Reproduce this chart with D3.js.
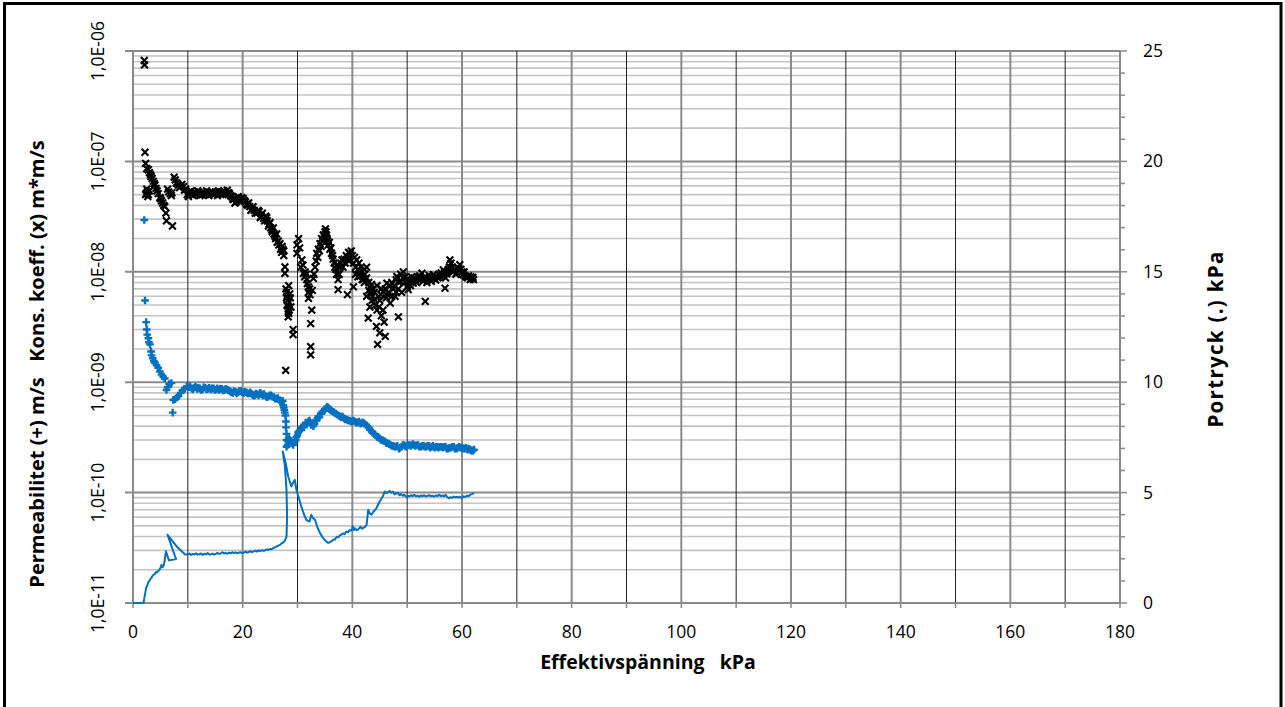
<!DOCTYPE html>
<html><head><meta charset="utf-8">
<script src="https://cdn.jsdelivr.net/npm/d3@7"></script>
<style>
html,body{margin:0;padding:0;background:#fff;}
svg{display:block;}
text{font-family:"Open Sans","Liberation Sans",sans-serif;fill:#000;white-space:pre;}
</style></head>
<body>
<svg id="chart" width="1285" height="707"></svg>
<script>
// ---------------- DATA ----------------
const xTickLabels = [0,20,40,60,80,100,120,140,160,180];
const leftTickLabels = ["1,0E-11","1,0E-10","1,0E-09","1,0E-08","1,0E-07","1,0E-06"];
const leftTickValues = [1e-11,1e-10,1e-9,1e-8,1e-7,1e-6];
const rightTickLabels = [0,5,10,15,20,25];

const xTitle = "Effektivspänning   kPa";
const leftTitle = "Permeabilitet (+) m/s   Kons. koeff. (x) m*m/s";
const rightTitle = "Portryck (.) kPa";

// Kons. koeff. (x) m*m/s  — [effektivspänning kPa, value]
const konsKoeff = [
 [2.06,8.2e-7],[2.1,7.5e-7],
 [2.19,1.21e-7],[2.3,9.6e-8],[2.5,8.6e-8],[2.8,8.4e-8],[3.0,7.9e-8],[3.2,7.6e-8],[3.5,7.0e-8],[3.7,6.6e-8],
 [4.0,6.1e-8],[4.2,5.7e-8],[4.6,5.1e-8],[4.9,4.7e-8],[5.2,4.4e-8],[5.4,4.2e-8],[5.8,3.9e-8],[6.0,3.4e-8],
 [6.1,2.9e-8],[7.2,2.6e-8],
 [2.4,5.1e-8],[2.6,5.3e-8],[2.8,5.0e-8],[3.0,5.4e-8],[6.5,5.3e-8],[6.8,5.1e-8],[7.1,5.2e-8],
 [7.5,7.2e-8],[7.9,6.4e-8],[8.3,6.1e-8],[8.7,6.0e-8],[9.2,5.9e-8],[9.6,5.6e-8],[10.1,4.8e-8],[10.4,5.2e-8],
 [10.8,5.1e-8],[11.2,5.3e-8],[11.6,5.0e-8],[12.0,5.2e-8],[12.4,5.1e-8],[12.8,5.3e-8],[13.2,5.0e-8],[13.6,5.2e-8],
 [14.0,5.1e-8],[14.4,5.3e-8],[14.8,5.0e-8],[15.2,5.2e-8],[15.6,5.4e-8],[16.0,5.1e-8],[16.4,5.0e-8],[16.8,5.2e-8],
 [17.2,5.5e-8],[17.6,5.1e-8],[18.0,4.8e-8],[18.3,4.5e-8],[18.6,4.2e-8],[19.0,4.4e-8],[19.4,4.6e-8],[19.8,4.7e-8],
 [20.1,4.6e-8],[20.5,4.3e-8],[20.9,4.0e-8],[21.3,3.9e-8],[21.7,3.7e-8],[22.1,3.6e-8],[22.6,3.4e-8],[23.0,3.5e-8],
 [23.4,3.2e-8],[23.8,3.05e-8],[24.2,3.2e-8],[24.5,2.9e-8],[24.8,2.7e-8],[25.1,2.5e-8],[25.4,2.3e-8],[25.7,2.2e-8],
 [26.0,2.0e-8],[26.3,1.85e-8],[26.6,1.75e-8],[26.9,1.6e-8],[27.1,1.5e-8],[27.3,1.6e-8],[27.5,1.4e-8],
 [27.7,1.11e-8],[27.7,9.7e-9],[27.9,7.0e-9],[28.0,6.5e-9],[28.1,6.0e-9],[28.2,5.5e-9],[28.1,5.0e-9],[28.3,4.6e-9],
 [28.4,4.2e-9],[28.0,5.8e-9],[28.5,5.3e-9],[28.6,6.3e-9],[29.2,3.0e-9],[29.2,2.7e-9],[27.85,1.28e-9],
 [29.9,1.75e-8],[30.2,2.0e-8],[29.9,1.47e-8],[30.8,1.28e-8],[31.1,9.7e-9],[31.4,1.0e-8],[31.7,8.5e-9],[32.0,7.3e-9],
 [32.0,6.5e-9],[32.0,5.75e-9],[32.3,6.2e-9],[32.6,4.5e-9],[32.4,3.4e-9],[32.4,2.1e-9],[32.4,1.77e-9],[32.9,8.7e-9],
 [33.2,1.1e-8],[33.5,1.47e-8],[33.8,1.6e-8],[34.1,1.8e-8],[34.4,2.0e-8],[34.7,2.16e-8],[35.0,2.3e-8],[35.2,2.3e-8],
 [35.4,2.0e-8],[35.6,1.75e-8],[35.9,1.6e-8],[36.2,1.47e-8],[36.5,1.3e-8],[36.8,1.1e-8],[37.1,9.5e-9],[37.4,8.5e-9],
 [37.4,6.9e-9],[37.8,1.1e-8],[38.1,1.28e-8],[38.5,1.3e-8],[38.9,1.4e-8],[39.3,1.5e-8],[39.6,1.47e-8],[40.0,1.4e-8],
 [40.4,1.35e-8],[40.8,1.28e-8],[39.1,6.2e-9],[40.2,7.3e-9],[41.0,9.0e-9],[41.4,9.1e-9],[41.8,1.0e-8],[42.2,1.05e-8],
 [42.6,1.1e-8],[42.0,8.5e-9],[43.0,8.0e-9],[43.2,7.3e-9],[43.5,7.7e-9],[42.6,6.0e-9],[43.2,4.8e-9],[42.9,3.8e-9],
 [43.6,5.5e-9],[44.0,6.5e-9],[44.4,3.2e-9],[45.0,2.8e-9],[46.0,2.6e-9],[44.6,2.2e-9],[44.2,5.0e-9],[44.8,6.0e-9],
 [45.3,7.0e-9],[45.6,4.5e-9],[46.3,7.9e-9],[46.6,6.5e-9],[46.9,5.2e-9],[47.2,6.0e-9],[47.8,6.0e-9],[48.4,3.9e-9],
 [48.1,9.1e-9],[48.5,8.0e-9],[48.8,9.5e-9],[49.3,1.0e-8],[49.6,9.0e-9],[50.0,7.3e-9],[50.2,6.9e-9],[50.6,7.5e-9],
 [51.1,7.9e-9],[51.5,8.5e-9],[51.9,9.0e-9],[52.3,9.2e-9],[52.7,9.7e-9],[53.0,8.8e-9],[53.3,5.4e-9],[53.6,8.0e-9],
 [54.2,8.5e-9],[54.6,9.0e-9],[55.0,8.7e-9],[55.4,9.1e-9],[55.8,9.5e-9],[56.2,9.8e-9],[56.6,1.04e-8],[56.9,7.1e-9],
 [57.2,9.6e-9],[57.5,1.05e-8],[57.8,1.28e-8],[58.2,1.1e-8],[58.7,1.05e-8],[59.0,9.8e-9],[59.3,1.05e-8],[59.6,1.16e-8],
 [60.0,1.0e-8],[60.2,9.4e-9],[60.6,9.2e-9],[61.0,8.8e-9],[61.5,8.5e-9],[61.8,8.8e-9],[62.1,8.5e-9],
 [40.6,1.1e-8],[41.2,1.2e-8],[41.6,1.1e-8],[42.3,9.5e-9],[43.8,7.0e-9],[44.5,7.5e-9],[45.0,5.5e-9],[45.3,4.0e-9],
 [45.8,3.5e-9],[46.2,5.8e-9],[47.5,7.0e-9],[48.0,6.5e-9],[49.0,6.5e-9],
 [2.3,5.0e-8],[2.5,5.6e-8],[2.7,4.8e-8],[3.3,7.3e-8],[3.9,6.3e-8],[4.4,5.4e-8],[5.0,4.6e-8],[5.6,4.0e-8],[6.3,5.6e-8],
 [7.0,4.9e-8],[7.7,6.8e-8],[8.1,6.3e-8],[8.5,5.8e-8],[8.9,6.2e-8],[9.4,5.5e-8],[9.9,5.0e-8],[10.6,5.4e-8],[11.0,4.9e-8],
 [11.4,5.2e-8],[11.8,5.4e-8],[12.2,4.9e-8],[12.6,5.0e-8],[13.0,5.2e-8],[13.4,5.4e-8],[13.8,4.9e-8],[14.2,5.2e-8],
 [14.6,5.1e-8],[15.0,5.3e-8],[15.4,4.9e-8],[15.8,5.1e-8],[16.2,5.3e-8],[16.6,5.4e-8],[17.0,5.0e-8],[17.4,5.2e-8],
 [17.8,4.9e-8],[18.2,4.6e-8],[18.8,4.3e-8],[19.2,4.8e-8],[19.6,4.4e-8],[20.3,4.4e-8],[20.7,4.1e-8],[21.1,4.2e-8],
 [21.5,3.6e-8],[21.9,3.9e-8],[22.3,3.4e-8],[22.8,3.6e-8],[23.2,3.1e-8],[23.6,3.4e-8],[24.0,2.9e-8],[24.4,3.1e-8],
 [24.7,2.6e-8],[25.0,2.8e-8],[25.3,2.4e-8],[25.6,2.5e-8],[25.9,2.1e-8],[26.2,2.2e-8],[26.5,1.9e-8],[26.8,1.8e-8],
 [27.2,1.7e-8],[27.5,1.55e-8],[28.4,7.5e-9],[28.2,4.9e-9],[28.5,4.5e-9],[28.3,3.9e-9],[28.7,5.8e-9],[28.8,4.8e-9],
 [30.4,1.65e-8],[30.6,1.1e-8],[31.0,1.15e-8],[31.3,9.0e-9],[31.6,9.5e-9],[31.8,7.8e-9],[32.2,7.0e-9],[32.7,6.8e-9],
 [33.0,9.5e-9],[33.4,1.25e-8],[33.7,1.35e-8],[34.0,1.55e-8],[34.3,1.7e-8],[34.6,1.9e-8],[34.9,2.05e-8],[35.1,2.45e-8],
 [35.3,2.15e-8],[35.5,1.9e-8],[35.8,1.85e-8],[36.1,1.65e-8],[36.4,1.4e-8],[36.7,1.2e-8],[37.0,1.05e-8],[37.3,1.15e-8],
 [37.6,9.5e-9],[37.9,1.2e-8],[38.3,1.1e-8],[38.7,1.2e-8],[39.0,1.3e-8],[39.4,1.25e-8],[39.8,1.55e-8],[40.2,1.2e-8],
 [40.6,9.5e-9],[41.0,1.05e-8],[41.4,1.0e-8],[41.8,8.5e-9],[42.2,8.0e-9],[42.6,8.8e-9],[43.0,6.8e-9],[43.3,6.2e-9],
 [43.7,6.0e-9],[44.1,5.6e-9],[44.5,4.5e-9],[44.9,4.8e-9],[45.2,6.2e-9],[45.6,6.6e-9],[46.0,7.0e-9],[46.4,6.2e-9],
 [46.8,7.4e-9],[47.2,8.0e-9],[47.6,7.5e-9],[48.0,8.5e-9],[48.4,7.0e-9],[48.8,8.2e-9],[49.2,8.8e-9],[49.6,8.0e-9],
 [50.0,8.6e-9],[50.4,8.2e-9],[50.8,9.0e-9],[51.3,8.8e-9],[51.7,8.0e-9],[52.1,8.4e-9],[52.5,8.8e-9],[52.9,8.2e-9],
 [53.3,9.0e-9],[53.8,8.6e-9],[54.0,9.3e-9],[54.4,8.2e-9],[54.8,9.4e-9],[55.2,8.4e-9],[55.6,8.8e-9],[56.0,9.0e-9],
 [56.4,9.3e-9],[56.8,9.8e-9],[57.0,8.8e-9],[57.4,1.0e-8],[57.7,1.1e-8],[58.0,1.2e-8],[58.4,1.0e-8],[58.9,9.5e-9],
 [59.2,1.1e-8],[59.8,1.05e-8],[60.4,1.0e-8],[60.8,9.0e-9],[61.2,9.2e-9],[61.6,9.0e-9],[62.0,8.9e-9]
];

// Permeabilitet (+) m/s — [effektivspänning kPa, value]
const permeabilitet = [
 [2.06,2.95e-8],[2.19,5.5e-9],[2.4,3.5e-9],[2.5,3.0e-9],[2.6,2.7e-9],[2.8,2.5e-9],[2.9,2.3e-9],[3.1,2.2e-9],
 [3.3,1.9e-9],[3.4,1.75e-9],[3.6,1.65e-9],[3.8,1.55e-9],[4.0,1.5e-9],[4.3,1.42e-9],[4.6,1.35e-9],[4.9,1.25e-9],
 [5.2,1.17e-9],[5.5,1.12e-9],[5.8,1.08e-9],[6.1,8.5e-10],[6.3,9.0e-10],[6.6,9.6e-10],[7.0,9.8e-10],[7.24,5.3e-10],
 [7.35,6.9e-10],[7.7,7.0e-10],[8.0,7.3e-10],[8.3,7.5e-10],[8.7,8.0e-10],[9.0,8.4e-10],[9.4,8.7e-10],[9.8,9.1e-10],
 [10.2,9.0e-10],[10.7,8.8e-10],[11.2,8.9e-10],[11.7,8.7e-10],[12.2,8.8e-10],[12.7,8.6e-10],[13.2,8.9e-10],[13.7,8.7e-10],
 [14.2,8.6e-10],[14.7,8.8e-10],[15.2,8.6e-10],[15.7,8.5e-10],[16.2,8.7e-10],[16.7,8.5e-10],[17.2,8.6e-10],[17.7,8.3e-10],
 [18.2,8.0e-10],[18.7,8.2e-10],[19.2,8.1e-10],[19.7,8.3e-10],[20.2,8.0e-10],[20.7,8.1e-10],[21.2,7.9e-10],[21.7,7.8e-10],
 [22.2,7.6e-10],[22.7,7.8e-10],[23.2,8.0e-10],[23.7,7.6e-10],[24.2,7.5e-10],[24.7,7.4e-10],[25.2,7.6e-10],[25.7,7.3e-10],
 [26.2,7.1e-10],[26.7,6.9e-10],[27.1,6.6e-10],[27.4,6.2e-10],[27.6,5.6e-10],[27.8,5.0e-10],[27.9,4.4e-10],[27.9,3.9e-10],
 [28.0,3.4e-10],[28.0,3.0e-10],[28.0,2.6e-10],[28.3,2.9e-10],[28.6,3.0e-10],[29.0,2.8e-10],[29.5,2.9e-10],[29.8,3.2e-10],
 [30.1,3.5e-10],[30.5,3.7e-10],[31.0,4.0e-10],[31.5,4.3e-10],[32.0,4.4e-10],[32.5,4.1e-10],[32.9,4.0e-10],[33.4,4.5e-10],
 [33.8,4.9e-10],[34.3,5.2e-10],[34.8,5.5e-10],[35.2,5.8e-10],[35.6,5.9e-10],[36.0,5.6e-10],[36.5,5.4e-10],[37.0,5.2e-10],
 [37.5,5.0e-10],[38.0,4.8e-10],[38.5,4.7e-10],[39.0,4.6e-10],[39.5,4.5e-10],[40.0,4.4e-10],[40.5,4.4e-10],[41.0,4.3e-10],
 [41.5,4.2e-10],[42.0,4.3e-10],[42.5,4.1e-10],[43.0,3.9e-10],[43.5,3.6e-10],[44.0,3.4e-10],[44.5,3.2e-10],[45.0,3.1e-10],
 [45.5,3.0e-10],[46.0,2.9e-10],[46.5,2.8e-10],[47.0,2.7e-10],[47.5,2.65e-10],[48.0,2.6e-10],[48.5,2.5e-10],[49.0,2.6e-10],
 [49.5,2.7e-10],[50.0,2.65e-10],[50.5,2.7e-10],[51.0,2.75e-10],[51.5,2.65e-10],[52.0,2.7e-10],[52.5,2.6e-10],[53.0,2.65e-10],
 [53.5,2.6e-10],[54.0,2.65e-10],[54.5,2.6e-10],[55.0,2.55e-10],[55.5,2.6e-10],[56.0,2.6e-10],[56.5,2.55e-10],[57.0,2.6e-10],
 [57.5,2.5e-10],[58.0,2.55e-10],[58.5,2.6e-10],[59.0,2.5e-10],[59.5,2.6e-10],[60.0,2.55e-10],[60.5,2.5e-10],[61.0,2.45e-10],
 [61.5,2.45e-10],[62.0,2.4e-10],
 [10.4,9.2e-10],[10.9,8.6e-10],[11.4,9.1e-10],[11.9,8.9e-10],[12.4,8.5e-10],[12.9,9.0e-10],[13.4,8.6e-10],[13.9,8.9e-10],
 [14.4,8.8e-10],[14.9,8.5e-10],[15.4,8.8e-10],[15.9,8.7e-10],[16.4,8.4e-10],[16.9,8.7e-10],[17.4,8.4e-10],[17.9,8.1e-10],
 [18.4,8.3e-10],[18.9,7.9e-10],[19.4,8.3e-10],[19.9,8.1e-10],[20.4,8.2e-10],[20.9,7.9e-10],[21.4,8.1e-10],[21.9,7.6e-10],
 [22.4,7.9e-10],[22.9,7.6e-10],[23.4,7.8e-10],[23.9,7.8e-10],[24.4,7.3e-10],[24.9,7.6e-10],[25.4,7.4e-10],[25.9,7.1e-10],
 [26.4,7.2e-10],[26.9,6.7e-10],[27.3,6.8e-10],[27.5,5.9e-10],[27.7,5.3e-10],[28.2,2.7e-10],[28.4,3.1e-10],[28.8,2.9e-10],
 [29.2,2.7e-10],[29.7,3.0e-10],[30.0,3.3e-10],[30.3,3.6e-10],[30.7,3.9e-10],[31.2,3.9e-10],[31.7,4.2e-10],[32.2,4.5e-10],
 [32.7,4.2e-10],[33.1,4.2e-10],[33.6,4.7e-10],[34.0,4.8e-10],[34.5,5.4e-10],[35.0,5.6e-10],[35.4,6.0e-10],[35.8,5.7e-10],
 [36.2,5.5e-10],[36.7,5.3e-10],[37.2,5.1e-10],[37.7,4.9e-10],[38.2,4.9e-10],[38.7,4.6e-10],[39.2,4.5e-10],[39.7,4.4e-10],
 [40.2,4.5e-10],[40.7,4.3e-10],[41.2,4.4e-10],[41.7,4.3e-10],[42.2,4.2e-10],[42.7,4.0e-10],[43.2,3.7e-10],[43.7,3.5e-10],
 [44.2,3.3e-10],[44.7,3.2e-10],[45.2,3.0e-10],[45.7,2.95e-10],[46.2,2.8e-10],[46.7,2.75e-10],[47.2,2.65e-10],[47.7,2.6e-10],
 [48.2,2.65e-10],[48.7,2.55e-10],[49.2,2.7e-10],[49.7,2.6e-10],[50.2,2.7e-10],[50.7,2.65e-10],[51.2,2.7e-10],[51.7,2.7e-10],
 [52.2,2.6e-10],[52.7,2.65e-10],[53.2,2.6e-10],[53.7,2.65e-10],[54.2,2.55e-10],[54.7,2.65e-10],[55.2,2.6e-10],[55.7,2.55e-10],
 [56.2,2.6e-10],[56.7,2.6e-10],[57.2,2.5e-10],[57.7,2.55e-10],[58.2,2.6e-10],[58.7,2.5e-10],[59.2,2.55e-10],[59.7,2.55e-10],
 [60.2,2.5e-10],[60.7,2.55e-10],[61.2,2.5e-10],[61.7,2.4e-10],[62.2,2.45e-10]
];

// Portryck (.) kPa — [effektivspänning kPa, portryck kPa] in measurement order
const portryck = [
 [0,0],[1.9,0],[2.2,0.4],[2.4,0.7],[2.6,0.78],[2.8,0.95],[3.0,1.0],[3.2,1.1],[3.4,1.15],[3.6,1.25],[3.8,1.28],
 [4.0,1.32],[4.2,1.4],[4.4,1.38],[4.6,1.45],[4.8,1.5],[5.0,1.58],[5.2,1.73],[5.4,1.62],[5.6,1.7],[5.8,1.96],
 [6.0,2.34],[6.57,1.93],[7.85,1.99],[6.3,3.09],[7.97,2.56],[8.88,2.34],[9.5,2.2],
 [10.0,2.2],[10.3,2.24],[10.6,2.18],[10.9,2.22],[11.2,2.2],[11.5,2.25],[11.8,2.19],[12.1,2.21],[12.4,2.24],[12.7,2.18],
 [13.0,2.23],[13.3,2.2],[13.6,2.26],[13.9,2.21],[14.2,2.2],[14.5,2.24],[14.8,2.19],[15.1,2.23],[15.4,2.27],[15.7,2.22],
 [16.0,2.25],[16.3,2.3],[16.6,2.24],[16.9,2.27],[17.2,2.23],[17.5,2.28],[17.8,2.25],[18.1,2.3],[18.4,2.26],[18.7,2.29],
 [19.0,2.25],[19.3,2.28],[19.6,2.3],[19.9,2.26],[20.2,2.28],[20.5,2.33],[20.8,2.28],[21.1,2.31],[21.4,2.35],[21.7,2.3],
 [22.0,2.34],[22.3,2.37],[22.6,2.33],[22.9,2.38],[23.2,2.35],[23.5,2.4],[23.8,2.36],[24.1,2.39],[24.4,2.43],[24.7,2.4],
 [25.0,2.45],[25.3,2.43],[25.6,2.49],[25.9,2.52],[26.2,2.56],[26.5,2.6],[26.8,2.63],[27.1,2.7],[27.4,2.74],[27.7,2.82],
 [28.0,3.02],[28.1,3.9],[28.0,5.1],[27.7,6.2],[27.3,6.86],[27.8,6.4],[28.3,5.73],[28.6,5.5],[28.9,5.28],[29.2,5.45],
 [29.5,5.58],[29.8,5.13],[30.3,4.7],[30.7,4.37],[31.2,4.0],[31.6,3.77],[31.9,3.72],[32.2,3.69],[32.5,4.0],[32.8,3.85],
 [33.2,3.77],[33.6,3.45],[34.1,3.17],[34.5,3.0],[34.8,2.9],[35.2,2.8],[35.6,2.72],[35.9,2.76],[36.2,2.8],[36.5,2.86],
 [36.8,2.87],[37.0,2.95],[37.2,3.0],[37.5,2.98],[37.7,3.06],[38.0,3.1],[38.3,3.15],[38.6,3.12],[38.9,3.24],[39.2,3.2],
 [39.5,3.3],[39.8,3.28],[40.1,3.47],[40.3,3.3],[40.5,3.38],[40.8,3.3],[41.0,3.32],[41.3,3.4],[41.5,3.45],[41.8,3.36],
 [42.0,3.4],[42.3,3.45],[42.6,3.54],[42.9,4.22],[43.2,4.05],[43.5,4.0],[43.8,4.12],[44.1,4.2],[44.4,4.3],[44.7,4.45],
 [45.0,4.6],[45.3,4.72],[45.6,4.85],[45.9,5.05],[46.2,4.98],[46.5,5.02],[46.8,5.08],[47.1,5.0],[47.4,5.05],[47.7,4.92],
 [48.0,4.96],[48.3,4.99],[48.6,4.88],[48.9,4.93],[49.2,4.86],[49.5,4.9],[49.8,4.8],[50.1,4.86],[50.4,4.82],[50.7,4.88],
 [51.0,4.84],[51.3,4.9],[51.6,4.83],[51.9,4.86],[52.2,4.81],[52.5,4.87],[52.8,4.84],[53.1,4.88],[53.4,4.82],[53.7,4.85],
 [54.0,4.88],[54.3,4.84],[54.6,4.86],[54.9,4.82],[55.2,4.87],[55.5,4.84],[55.8,4.9],[56.1,4.85],[56.4,4.87],[56.7,4.83],
 [57.0,4.9],[57.3,4.8],[57.6,4.74],[57.9,4.79],[58.2,4.76],[58.5,4.82],[58.8,4.78],[59.1,4.81],[59.4,4.77],[59.7,4.8],
 [60.0,4.76],[60.3,4.83],[60.6,4.8],[60.9,4.86],[61.2,4.84],[61.5,4.9],[61.8,4.93],[62.2,4.98]
];

// ---------------- CHART ----------------
const svg = d3.select("#chart");
const X0 = 133, X1 = 1120, Y0 = 603, Y1 = 51;
const x = d3.scaleLinear().domain([0,180]).range([X0,X1]);
const yL = d3.scaleLog().domain([1e-11,1e-6]).range([Y0,Y1]);
const yR = d3.scaleLinear().domain([0,25]).range([Y0,Y1]);

// outer frame
svg.append("rect").attr("x",4.5).attr("y",3.5).attr("width",1276.5).attr("height",720)
  .attr("fill","none").attr("stroke","#000").attr("stroke-width",3);

const grid = svg.append("g");
const minorVals = [];
for (let k=-11;k<-6;k++) for (let m=2;m<=9;m++) minorVals.push(m*Math.pow(10,k));
grid.selectAll("line.hmin").data(minorVals).join("line")
  .attr("x1",X0).attr("x2",X1).attr("y1",d=>yL(d)).attr("y2",d=>yL(d))
  .attr("stroke","#c4c4c4").attr("stroke-width",1.6);
grid.selectAll("line.hmaj").data(leftTickValues).join("line")
  .attr("x1",X0-8).attr("x2",X1).attr("y1",d=>yL(d)).attr("y2",d=>yL(d))
  .attr("stroke","#8a8a8a").attr("stroke-width",2);
const vVals = d3.range(10,180,10);
grid.selectAll("line.v").data(vVals).join("line")
  .attr("x1",d=>x(d)).attr("x2",d=>x(d)).attr("y1",Y1).attr("y2",Y0)
  .attr("stroke",d=>d%20===0?"#8a8a8a":"#222")
  .attr("stroke-width",d=>d%20===0?2:1);

svg.append("line").attr("x1",X0).attr("x2",X0).attr("y1",Y1).attr("y2",Y0).attr("stroke","#8a8a8a").attr("stroke-width",2);
svg.append("line").attr("x1",X1).attr("x2",X1).attr("y1",Y1).attr("y2",Y0).attr("stroke","#8a8a8a").attr("stroke-width",2);
svg.append("line").attr("x1",X0).attr("x2",X1).attr("y1",Y0).attr("y2",Y0).attr("stroke","#8a8a8a").attr("stroke-width",2);

svg.selectAll("line.bt").data(d3.range(0,181,10)).join("line")
  .attr("x1",d=>x(d)).attr("x2",d=>x(d)).attr("y1",Y0).attr("y2",Y0+5)
  .attr("stroke","#8a8a8a").attr("stroke-width",1.5);
svg.selectAll("text.bl").data(xTickLabels).join("text")
  .attr("x",d=>x(d)).attr("y",638).attr("text-anchor","middle")
  .attr("font-size",17.5).text(d=>d);

svg.selectAll("line.rt").data(d3.range(0,26,1)).join("line")
  .attr("x1",X1).attr("x2",d=>X1+(d%5===0?7:5)).attr("y1",d=>yR(d)).attr("y2",d=>yR(d))
  .attr("stroke","#8a8a8a").attr("stroke-width",1.5);
svg.selectAll("text.rl").data(rightTickLabels).join("text")
  .attr("x",1143).attr("y",d=>yR(d)+6).attr("text-anchor","start")
  .attr("font-size",17.5).text(d=>d);

svg.selectAll("text.ll").data(leftTickValues).join("text")
  .attr("transform",(d,i)=>`translate(104,${yL(d)}) rotate(-90)`)
  .attr("text-anchor","middle").attr("font-size",17.5)
  .text((d,i)=>leftTickLabels[i]);

svg.append("text").attr("x",648).attr("y",669).attr("text-anchor","middle")
  .attr("font-size",19.5).attr("font-weight","bold").text(xTitle);
svg.append("text").attr("transform","translate(44,364) rotate(-90)").attr("text-anchor","middle")
  .attr("font-size",20).attr("font-weight","bold").text(leftTitle);
svg.append("text").attr("transform","translate(1223,339) rotate(-90)").attr("text-anchor","middle")
  .attr("font-size",20.5).attr("font-weight","bold").attr("letter-spacing",1.3).text(rightTitle);

const BLUE = "#0070C0";
svg.append("path").datum(portryck)
  .attr("d", d3.line().x(d=>x(d[0])).y(d=>yR(d[1])))
  .attr("fill","none").attr("stroke",BLUE).attr("stroke-width",2).attr("stroke-linejoin","round");

const ps = 3.8;
svg.append("g").selectAll("path").data(permeabilitet).join("path")
  .attr("d",d=>{const cx=x(d[0]),cy=yL(d[1]);return `M${cx-ps},${cy}H${cx+ps}M${cx},${cy-ps}V${cy+ps}`;})
  .attr("stroke",BLUE).attr("stroke-width",2.4).attr("fill","none");

const cs = 3.4;
svg.append("g").selectAll("path").data(konsKoeff).join("path")
  .attr("d",d=>{const cx=x(d[0]),cy=yL(d[1]);return `M${cx-cs},${cy-cs}L${cx+cs},${cy+cs}M${cx-cs},${cy+cs}L${cx+cs},${cy-cs}`;})
  .attr("stroke","#000").attr("stroke-width",2.1).attr("fill","none");
</script>
</body></html>
